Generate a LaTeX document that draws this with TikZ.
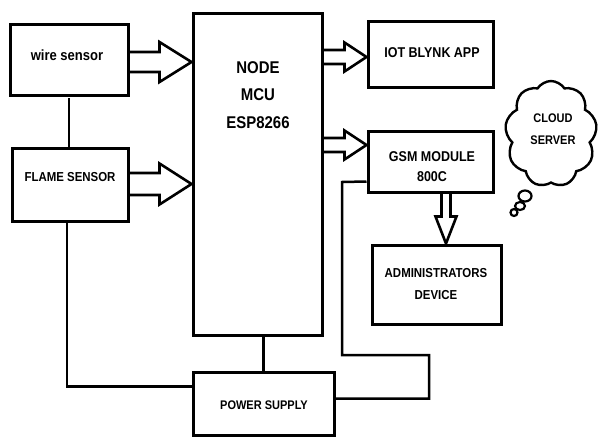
\documentclass[tikz,border=0pt]{standalone}
\usepackage{fontspec}
\setmainfont{Liberation Sans}[FakeStretch=0.88]
\usetikzlibrary{calc,shapes.symbols}
\newcommand{\harrow}[5]{\draw[fat] let \p1=(#1), \p2=(#2) in (\x1,\y2-#3pt) -- (\x2-#5pt,\y2-#3pt) -- (\x2-#5pt,\y2-#4pt) -- (\x2,\y2) -- (\x2-#5pt,\y2+#4pt) -- (\x2-#5pt,\y2+#3pt) -- (\x1,\y2+#3pt);}
\newcommand{\varrow}[5]{\draw[fat] let \p1=(#1), \p2=(#2) in (\x2-#3pt,\y1) -- (\x2-#3pt,\y2+#5pt) -- (\x2-#4pt,\y2+#5pt) -- (\x2,\y2) -- (\x2+#4pt,\y2+#5pt) -- (\x2+#3pt,\y2+#5pt) -- (\x2+#3pt,\y1);}
\begin{document}
\begin{tikzpicture}[x=1pt,y=-1pt,
  box/.style={draw, line width=3pt, inner sep=0pt},
  txt/.style={font=\bfseries, align=center, inner sep=0pt},
  wire/.style={line width=2.5pt},
  fat/.style={draw, line width=2.6pt, line join=miter}]
\useasboundingbox (0,0) rectangle (598,437);
\fill[white] (0,0) rectangle (598,437);

% boxes
\node[box, minimum width=118pt, minimum height=71pt] (wire) at (69,59.5) {};
\node[box, minimum width=116pt, minimum height=73pt] (flame) at (70,184.5) {};
\node[box, minimum width=129pt, minimum height=322pt] (mcu) at (257.5,174) {};
\node[box, minimum width=125pt, minimum height=66pt] (iot) at (430.5,54) {};
\node[box, minimum width=125pt, minimum height=61pt] (gsm) at (430.5,161.5) {};
\node[box, minimum width=129pt, minimum height=79pt] (admin) at (436.5,284.5) {};
\node[box, minimum width=141pt, minimum height=63pt] (power) at (263.5,403.5) {};
\node[cloud, draw, line width=2.4pt, cloud puffs=9, cloud puff arc=115, aspect=0.85, minimum width=92pt, minimum height=106pt, inner sep=0pt] (cloud) at (551,134) {};

% texts
\node[txt, font=\bfseries\fontsize{14.8}{16}\selectfont] (wiretxt) at (67,55) {wire sensor};
\node[txt, font=\bfseries\fontsize{13}{15}\selectfont] (flametxt) at (70,177) {FLAME SENSOR};
\node[txt, font=\bfseries\fontsize{17}{27.5}\selectfont] (mcutxt) at (258,95) {NODE\\MCU\\ESP8266};
\node[txt, font=\bfseries\fontsize{14.2}{16}\selectfont] (iottxt) at (432,53) {IOT BLYNK APP};
\node[txt, font=\bfseries\fontsize{14.2}{20}\selectfont] (gsmtxt) at (432,167) {GSM MODULE\\800C};
\node[txt, font=\bfseries\fontsize{13}{22}\selectfont] (admintxt) at (436,284) {ADMINISTRATORS\\DEVICE};
\node[txt, font=\bfseries\fontsize{12.5}{15}\selectfont] (powertxt) at (264,405) {POWER SUPPLY};
\node[txt, font=\bfseries\fontsize{12.5}{22}\selectfont] (cloudtxt) at (553,129) {CLOUD\\SERVER};

% thought bubbles
\draw[line width=2.2pt] (525,196) ellipse (6.5 and 5.5);
\draw[line width=2.2pt] (520,206) ellipse (5 and 4);
\draw[line width=2.2pt] (514,212.5) ellipse (3.5 and 3.5);

% helper coordinates
\coordinate (r1) at (0,62);
\coordinate (r2) at (0,184);
\coordinate (r3) at (0,57);
\coordinate (r4) at (0,145);
\coordinate (c1) at (446,0);

% hollow arrows
\harrow{wire.east}{mcu.west |- r1}{10}{20}{32}
\harrow{flame.east}{mcu.west |- r2}{11}{20.5}{32}
\harrow{mcu.east}{iot.west |- r3}{7}{14.5}{22}
\harrow{mcu.east}{gsm.west |- r4}{7}{14.5}{22}
\varrow{gsm.south -| c1}{admin.north -| c1}{4.5}{10.5}{27}

% connectors
\draw[wire] ($(wire.south)+(0,1.5)$) -- (wire.south |- flame.north);
\draw[wire] ($(flame.south)+(-3,0)$) |- ($(power.north west)+(0,16)$);
\draw[wire] (mcu.south -| power.north) -- (power.north);
\draw[wire] ($(power.north east)+(0,28)$) -| (429,355) -| (342,182) -- ($(gsm.south west)+(0,-12)$);
\end{tikzpicture}
\end{document}
